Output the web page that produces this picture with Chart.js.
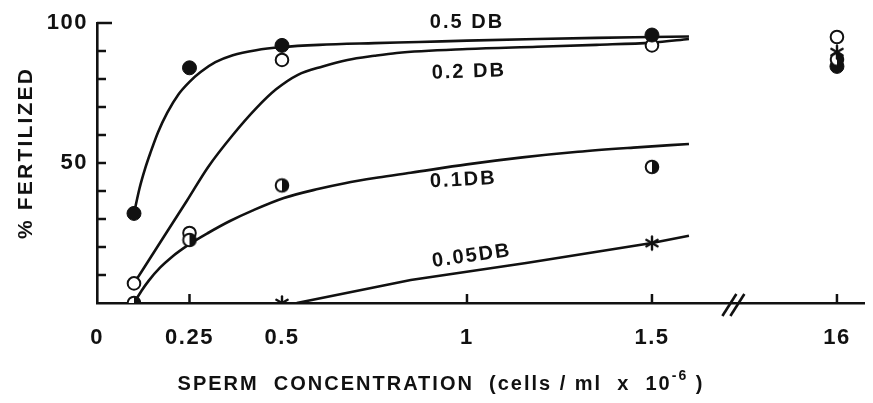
<!DOCTYPE html>
<html>
<head>
<meta charset="utf-8">
<script src="https://cdn.jsdelivr.net/npm/chart.js@4/dist/chart.umd.min.js"></script>
<style>
  html, body { margin: 0; padding: 0; background: #fff; }
  #wrap { width: 873px; height: 403px; }
</style>
</head>
<body>
<div id="wrap"><canvas id="chart"></canvas></div>
<script>
// sperm concentration (cells/ml x 10^-6) of the measured points
const CONC = [0.1, 0.25, 0.5, 1.5, 16];
// % fertilized, one array per dilution
const FERT_05 = [32, 84, 92, 95.7, 84.5];
const FERT_02 = [7, 25, 86.8, 92, 95];
const FERT_01 = [0, 22.5, 42, 48.6, 87];
const FERT_005 = [null, null, 0, 21.4, 89.6];

// hand-drawn fitted curves
const CURVE_05_X = [0.1, 0.115, 0.13, 0.144, 0.165, 0.19, 0.22, 0.25, 0.28, 0.32, 0.367, 0.43, 0.5, 0.6, 0.75, 0.87, 1.0, 1.19, 1.35, 1.5, 1.6];
const CURVE_05_Y = [32, 41, 48, 53.5, 61, 68, 74.5, 79, 82.5, 86, 88.5, 90.3, 91.4, 92.2, 92.8, 93.2, 93.7, 94.3, 94.7, 95, 95.2];
const CURVE_02_X = [0.1, 0.175, 0.243, 0.3, 0.367, 0.43, 0.484, 0.543, 0.61, 0.677, 0.75, 0.81, 1.0, 1.19, 1.35, 1.5, 1.6];
const CURVE_02_Y = [7, 22.5, 36.5, 48.5, 60, 69.5, 76.3, 81.5, 84.5, 86.8, 88.3, 89.3, 90.7, 91.5, 92.2, 93, 94.3];
const CURVE_01_X = [0.1, 0.12, 0.14, 0.171, 0.2, 0.25, 0.3, 0.358, 0.42, 0.505, 0.6, 0.67, 0.76, 0.848, 1.0, 1.15, 1.3, 1.45, 1.6];
const CURVE_01_Y = [0, 4.3, 8, 12.7, 16.2, 21, 25, 29.2, 33, 37.5, 40.8, 42.8, 44.8, 46.5, 49.5, 52, 54, 55.5, 56.8];
const CURVE_005_X = [0.54, 0.848, 1.16, 1.5, 1.6];
const CURVE_005_Y = [0, 8.2, 14.3, 21.4, 24];

const X_TICKS = [0, 0.25, 0.5, 1, 1.5, 16];
const X_TICK_LABELS = ["0", "0.25", "0.5", "1", "1.5", "16"];
const X_TICK_MARKS = [0.25, 1, 1.5, 16];
const Y_TICK_LABELS = [50, 100];

// broken axis: everything past the break sits at one spot
const BREAK_AT = 1.72;
const BREAK_POS = 2.0;
const toAxis = (c) => (c > BREAK_AT ? BREAK_POS : c);

const INK = "#111";
const FONT = "'Liberation Sans', Arial, sans-serif";

function pts(xs, ys) {
  return xs.map((x, i) => ({ x: toAxis(x), y: ys[i] })).filter((p) => p.y !== null);
}

function makeMarker(draw) {
  const c = document.createElement("canvas");
  c.width = 18; c.height = 18;
  const g = c.getContext("2d");
  draw(g);
  return c;
}
const halfMarker = makeMarker((g) => {
  g.beginPath(); g.arc(9, 9, 6.3, 0, Math.PI * 2); g.fillStyle = "#fff"; g.fill();
  g.beginPath(); g.arc(9, 9, 6.3, -Math.PI / 2, Math.PI / 2); g.closePath(); g.fillStyle = INK; g.fill();
  g.beginPath(); g.arc(9, 9, 6.3, 0, Math.PI * 2); g.lineWidth = 2; g.strokeStyle = INK; g.stroke();
});
const starMarker = makeMarker((g) => {
  g.strokeStyle = INK; g.lineWidth = 2.4; g.lineCap = "round";
  for (const a of [90, 30, 150]) {
    const r = (a * Math.PI) / 180;
    g.beginPath();
    g.moveTo(9 - Math.cos(r) * 6.5, 9 - Math.sin(r) * 6.5);
    g.lineTo(9 + Math.cos(r) * 6.5, 9 + Math.sin(r) * 6.5);
    g.stroke();
  }
});

const CURVE_LABELS = [
  { text: "0.5 DB", x: 1.0, y: 100.3, rot: 0 },
  { text: "0.2 DB", x: 1.005, y: 82.5, rot: -2 },
  { text: "0.1DB", x: 0.99, y: 43.9, rot: -3 },
  { text: "0.05DB", x: 1.013, y: 16.8, rot: -8 },
];

const decor = {
  id: "decor",
  beforeDraw(chart) {
    chart.ctx.letterSpacing = "1.5px";
  },
  afterDraw(chart) {
    const { ctx, scales: { x, y } } = chart;
    ctx.save();
    ctx.strokeStyle = INK;
    ctx.fillStyle = INK;
    ctx.lineWidth = 2.5;
    // inward ticks on y
    for (let v = 10; v <= 100; v += 10) {
      const py = y.getPixelForValue(v);
      ctx.beginPath();
      ctx.moveTo(x.left, py);
      ctx.lineTo(x.left + (v === 100 ? 15 : 9), py);
      ctx.stroke();
    }
    // inward ticks on x
    for (const v of X_TICK_MARKS) {
      const px = x.getPixelForValue(toAxis(v));
      ctx.beginPath();
      ctx.moveTo(px, y.bottom);
      ctx.lineTo(px, y.bottom - 9);
      ctx.stroke();
    }
    // axis break
    const bx = x.getPixelForValue(BREAK_AT);
    ctx.lineWidth = 2.6;
    for (const dx of [-4, 4]) {
      ctx.beginPath();
      ctx.moveTo(bx + dx - 7, y.bottom + 13);
      ctx.lineTo(bx + dx + 7, y.bottom - 9);
      ctx.stroke();
    }
    // curve labels
    ctx.font = "bold 20px " + FONT;
    ctx.letterSpacing = "2px";
    ctx.textAlign = "center";
    ctx.textBaseline = "middle";
    for (const l of CURVE_LABELS) {
      ctx.save();
      ctx.translate(x.getPixelForValue(l.x), y.getPixelForValue(l.y));
      ctx.rotate((l.rot * Math.PI) / 180);
      ctx.fillText(l.text, 0, 0);
      ctx.restore();
    }
    // y title
    ctx.font = "bold 21px " + FONT;
    ctx.letterSpacing = "2.2px";
    ctx.save();
    ctx.translate(26, 153);
    ctx.rotate(-Math.PI / 2);
    ctx.fillText("% FERTILIZED", 0, 0);
    ctx.restore();
    // x title with superscript
    ctx.textAlign = "left";
    ctx.font = "bold 20px " + FONT;
    ctx.letterSpacing = "2px";
    const main = "SPERM  CONCENTRATION  (cells / ml  x  10";
    const sup = "-6";
    const tail = " )";
    const wMain = ctx.measureText(main).width;
    ctx.font = "bold 14px " + FONT;
    const wSup = ctx.measureText(sup).width;
    ctx.font = "bold 20px " + FONT;
    const wTail = ctx.measureText(tail).width;
    let tx = 441 - (wMain + wSup + wTail) / 2;
    const ty = 384;
    ctx.fillText(main, tx, ty);
    tx += wMain;
    ctx.font = "bold 14px " + FONT;
    ctx.fillText(sup, tx, ty - 8);
    tx += wSup;
    ctx.font = "bold 20px " + FONT;
    ctx.fillText(tail, tx, ty);
    ctx.restore();
  },
};

const curve = (xs, ys, smooth) => ({
  type: "line",
  data: pts(xs, ys),
  borderColor: INK,
  borderWidth: 2.6,
  pointRadius: 0,
  fill: false,
  cubicInterpolationMode: smooth ? "monotone" : "default",
  tension: 0,
});

const marks = (ys, style) => ({
  type: "scatter",
  data: pts(CONC, ys),
  showLine: false,
  ...style,
});

new Chart(document.getElementById("chart"), {
  type: "scatter",
  data: {
    datasets: [
      marks(FERT_005, { pointStyle: starMarker }),
      marks(FERT_01, { pointStyle: halfMarker }),
      marks(FERT_05, { pointStyle: "circle", pointRadius: 7, backgroundColor: INK, borderColor: INK, borderWidth: 1 }),
      marks(FERT_02, { pointStyle: "circle", pointRadius: 6.3, backgroundColor: "#fff", borderColor: INK, borderWidth: 2 }),
      curve(CURVE_05_X, CURVE_05_Y, true),
      curve(CURVE_02_X, CURVE_02_Y, true),
      curve(CURVE_01_X, CURVE_01_Y, true),
      curve(CURVE_005_X, CURVE_005_Y, false),
    ],
  },
  options: {
    responsive: true,
    maintainAspectRatio: false,
    animation: false,
    layout: { padding: { top: 23, right: 0, left: 0, bottom: 0 } },
    plugins: { legend: { display: false }, tooltip: { enabled: false } },
    scales: {
      x: {
        type: "linear",
        min: 0,
        max: 2.075,
        afterFit: (s) => { s.height = 100; },
        afterBuildTicks: (s) => { s.ticks = X_TICKS.map((v) => ({ value: toAxis(v) })); },
        grid: { display: false, drawTicks: false },
        border: { color: INK, width: 2.6 },
        ticks: {
          color: INK,
          padding: 22,
          maxRotation: 0,
          autoSkip: false,
          font: { family: FONT, size: 22, weight: "bold" },
          callback: (v) => {
            const i = X_TICKS.findIndex((t) => toAxis(t) === v);
            return i >= 0 ? X_TICK_LABELS[i] : "";
          },
        },
      },
      y: {
        min: 0,
        max: 100,
        afterFit: (s) => { s.width = 97; },
        afterBuildTicks: (s) => { s.ticks = Y_TICK_LABELS.map((v) => ({ value: v })); },
        grid: { display: false, drawTicks: false },
        border: { color: INK, width: 2.6 },
        ticks: {
          color: INK,
          padding: 9,
          autoSkip: false,
          font: { family: FONT, size: 22, weight: "bold" },
        },
      },
    },
  },
  plugins: [decor],
});
</script>
</body>
</html>
